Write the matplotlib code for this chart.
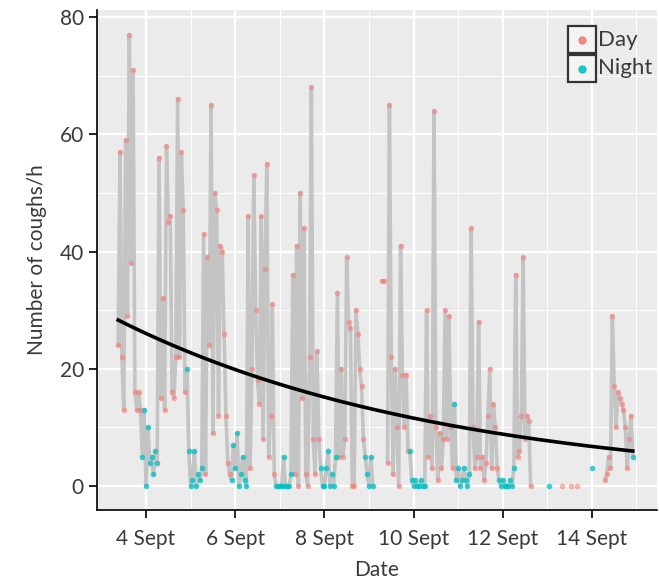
import numpy as np
import matplotlib
matplotlib.use("Agg")
import matplotlib.pyplot as plt
from matplotlib.patches import Rectangle
from matplotlib.lines import Line2D

# Hourly cough counts (coughs/h), one list per calendar day, index = hour of day.
# None marks hours without a recording.
N = None
sept03 = [N, N, N, N, N, N, N, N, N, 24, 57, 22, 13, 59, 29, 77, 38, 71, 16, 13, 16, 13, 5, 13]
sept04 = [0, 10, 4, 5, 2, 6, 4, 56, 15, 32, 13, 58, 45, 46, 16, 15, 22, 66, 22, 57, 47, 16, 20, 6]
sept05 = [0, 1, 6, 0, 2, 1, 3, 43, 2, 39, 24, 65, 9, 50, 47, 12, 41, 40, 26, 12, 4, 2, 1, 7]
sept06 = [3, 9, 0, 2, 5, 1, 0, 46, 3, 20, 53, 30, 18, 14, 46, 8, 37, 55, 5, 12, 31, 2, 0, 0]
sept07 = [0, 0, 5, 0, 0, 0, 2, 36, 2, 41, 0, 50, 15, 44, 2, 0, 22, 68, 8, 2, 23, 8, 3, 0]
sept08 = [0, 3, 6, 0, 2, 0, 5, 33, 5, 20, 5, 8, 39, 28, 27, 0, 0, 30, 26, 20, 17, 8, 5, 2]
sept09 = [0, 5, 0, N, N, N, N, 35, 35, N, 4, 65, 22, 2, 20, 10, 0, 41, 19, 10, 19, 6, 6, 1]
sept10 = [0, 1, 0, 0, 1, 0, 0, 30, 5, 12, 3, 64, 10, 1, 9, 3, 8, 30, 8, 29, 10, 3, 14, 1]
sept11 = [3, 0, 1, 3, 1, 0, 2, 44, 10, 3, 5, 28, 3, 5, 1, 4, 12, 20, 3, 14, 10, 3, 1, 0]
sept12 = [1, 0, 0, 0, 1, 0, 3, 36, 5, 6, 12, 39, 8, 12, 11, 0, N, N, N, N, N, N, N, N]
sept13 = [N, 0, N, N, N, N, N, N, 0, N, N, N, N, 0, N, N, 0, N, N, N, N, N, N, N]
sept14 = [3, N, N, N, N, N, N, 1, 2, 5, 3, 29, 17, 10, 16, 15, 14, 13, 10, 3, 8, 12, 5, N]

days = [3, 4, 5, 6, 7, 8, 9, 10, 11, 12, 13, 14]
daily_counts = [sept03, sept04, sept05, sept06, sept07, sept08,
                sept09, sept10, sept11, sept12, sept13, sept14]

# Exponential trend fitted to the hourly counts
fit_start_value = 28.3   # coughs/h at the first recorded hour
fit_decay_rate = 0.135   # per day

tick_days = [4, 6, 8, 10, 12, 14]
tick_labels = ["4 Sept", "6 Sept", "8 Sept", "10 Sept", "12 Sept", "14 Sept"]
y_ticks = [0, 20, 40, 60, 80]

DAY_COLOR = "#F8766D"
NIGHT_COLOR = "#00BFC4"
PANEL = "#EBEBEB"
TEXT = "#3A3A3A"

# Flatten into a continuous time axis (in days of September)
hours = np.arange(24)
t = np.concatenate([d + hours / 24.0 for d in days])
hour_of_day = np.tile(hours, len(days))
v = np.array([np.nan if x is None else x for day in daily_counts for x in day], dtype=float)
night = (hour_of_day >= 22) | (hour_of_day < 7)

plt.rcParams["font.family"] = ["Lato", "DejaVu Sans"]

fig = plt.figure(figsize=(6.59, 5.84), dpi=100)
ax = fig.add_axes([97 / 659, 74 / 584, 560 / 659, 500 / 584])
ax.set_facecolor(PANEL)

# Hourly series
ax.plot(t, v, color="#C4C4C4", lw=2.6, zorder=2)
ok = ~np.isnan(v)
ax.scatter(t[ok & ~night], v[ok & ~night], s=16, color=DAY_COLOR, alpha=0.55,
           linewidths=0, zorder=3)
ax.scatter(t[ok & night], v[ok & night], s=16, color=NIGHT_COLOR, alpha=0.75,
           linewidths=0, zorder=3)

# Trend curve
t_obs = t[ok]
tt = np.linspace(t_obs.min(), t_obs.max(), 300)
ax.plot(tt, fit_start_value * np.exp(-fit_decay_rate * (tt - t_obs.min())),
        color="black", lw=2.6, zorder=4)

ax.set_xlim(2.90, 15.46)
ax.set_ylim(-4.1, 81.2)
ax.set_xticks(tick_days)
ax.set_xticklabels(tick_labels)
ax.set_xticks([5, 7, 9, 11, 13, 15], minor=True)
ax.set_yticks(y_ticks)
ax.set_yticks([10, 30, 50, 70], minor=True)
ax.grid(which="major", color="white", lw=1.6, zorder=0)
ax.grid(which="minor", color="white", lw=0.7, zorder=0)
ax.set_axisbelow(True)

for side in ["top", "right"]:
    ax.spines[side].set_visible(False)
for side in ["left", "bottom"]:
    ax.spines[side].set_color("black")
    ax.spines[side].set_linewidth(1.2)
ax.tick_params(which="major", length=5.5, width=1.2, color="black",
               labelsize=15, labelcolor=TEXT)
ax.tick_params(axis="x", which="major", pad=8)
ax.tick_params(axis="y", which="major", pad=4)
ax.tick_params(which="minor", length=0)

ax.set_xlabel("Date", fontsize=15, color=TEXT, labelpad=8)
ax.set_ylabel("Number of coughs/h", fontsize=15, color=TEXT, labelpad=9)

# Legend keys drawn as bordered boxes in figure pixel coordinates
def px(x, y):
    return x / 659, 1 - y / 584

for i, (label, col) in enumerate([("Day", DAY_COLOR), ("Night", NIGHT_COLOR)]):
    top = 26 + i * 29
    x0, y0 = px(568, top + 27)
    fig.add_artist(Rectangle((x0, y0), 28 / 659, 27 / 584, transform=fig.transFigure,
                             facecolor="#F4F4F4", edgecolor="#333333", lw=1.6, zorder=5))
    cx, cy = px(582, top + 13.5)
    fig.add_artist(Line2D([cx], [cy], marker="o", markersize=5, color=col, lw=0,
                          alpha=0.85, transform=fig.transFigure, zorder=6))
    tx, ty = px(598, top + 13.5)
    fig.text(tx, ty, label, fontsize=16, color=TEXT, va="center", ha="left", zorder=6)

fig.savefig("out.png", dpi=100)
